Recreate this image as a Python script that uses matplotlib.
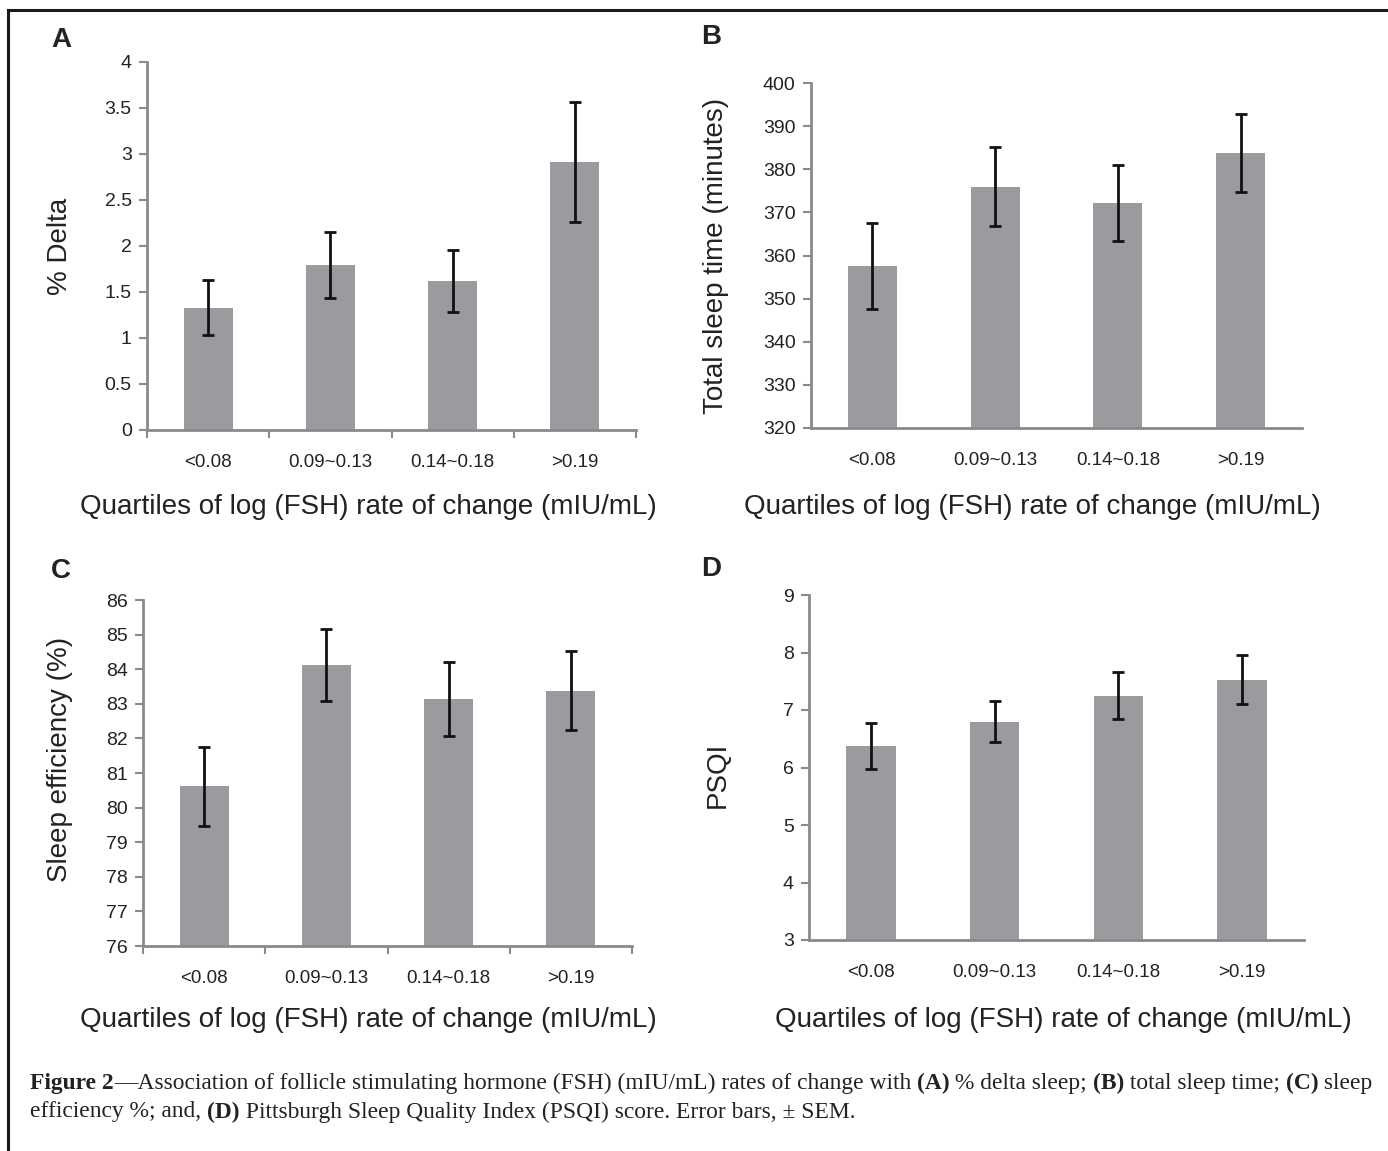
import matplotlib
matplotlib.use('Agg')
import matplotlib.pyplot as plt
from matplotlib.lines import Line2D
import numpy as np

plt.rcParams['font.family'] = ['Liberation Sans', 'DejaVu Sans']
plt.rcParams['text.color'] = '#222222'
plt.rcParams['axes.labelcolor'] = '#222222'
plt.rcParams['xtick.labelcolor'] = '#222222'
plt.rcParams['ytick.labelcolor'] = '#222222'

categories = ['<0.08', '0.09~0.13', '0.14~0.18', '>0.19']

delta_mean = [1.33, 1.79, 1.62, 2.91]
delta_sem = [0.30, 0.36, 0.34, 0.65]

tst_mean = [357.5, 376.0, 372.2, 383.8]
tst_sem = [10.0, 9.2, 8.8, 9.0]

eff_mean = [80.62, 84.12, 83.13, 83.38]
eff_sem = [1.14, 1.04, 1.07, 1.15]

psqi_mean = [6.38, 6.80, 7.25, 7.53]
psqi_sem = [0.40, 0.36, 0.41, 0.42]

xlab = 'Quartiles of log (FSH) rate of change (mIU/mL)'

W, H = 1388, 1151
fig = plt.figure(figsize=(W/100, H/100), dpi=100)

def px_axes(l, r, t, b):
    return fig.add_axes([l/W, 1-b/H, (r-l)/W, (b-t)/H])

bar_col = '#9a9b9f'
ax_col = '#8a8a8a'

panels = [
    # letter, box (l, r, t, b), means, sems, ylim, yticks, ylabel, ylab coords, boundary ticks, letter xy, xlabel xy
    ('A', (147, 636, 62, 430), delta_mean, delta_sem, (0, 4), np.arange(0, 4.01, 0.5), '% Delta', (-0.151, 0.5), True, (61, 40), (368, 507)),
    ('B', (811, 1302, 83, 428), tst_mean, tst_sem, (320, 400), np.arange(320, 401, 10), 'Total sleep time (minutes)', (-0.167, 0.5), False, (711, 37), (1032, 507)),
    ('C', (143, 632, 600, 946), eff_mean, eff_sem, (76, 86), np.arange(76, 87, 1), 'Sleep efficiency (%)', (-0.143, 0.54), True, (61, 571), (368, 1020)),
    ('D', (809, 1304, 595, 940), psqi_mean, psqi_sem, (3, 9), np.arange(3, 10, 1), 'PSQI', (-0.158, 0.48), False, (711, 569), (1063, 1020)),
]

for letter, box, means, sems, ylim, yt, ylab, ylc, bticks, lxy, xlxy in panels:
    ax = px_axes(*box)
    x = np.arange(len(categories))
    ax.bar(x, means, width=0.4, color=bar_col, zorder=2)
    ax.errorbar(x, means, yerr=sems, fmt='none', ecolor='#111111', elinewidth=2,
                capsize=4, capthick=2, zorder=3)
    ax.set_xlim(-0.5, 3.5)
    ax.set_ylim(*ylim)
    ax.set_yticks(yt)
    ax.set_yticklabels([('%g' % v) for v in yt])
    ax.set_xticks(x)
    ax.set_xticklabels(categories, fontsize=13.5)
    ax.tick_params(axis='x', length=0, pad=17)
    if bticks:
        ax.set_xticks(np.arange(-0.5, 4, 1), minor=True)
        ax.tick_params(axis='x', which='minor', length=6, width=1.5, color=ax_col)
    ax.tick_params(axis='y', length=6, width=1.5, color=ax_col, labelsize=14, pad=5)
    for s in ['top', 'right']:
        ax.spines[s].set_visible(False)
    for s in ['left', 'bottom']:
        ax.spines[s].set_color(ax_col)
        ax.spines[s].set_linewidth(2)
    ax.set_ylabel(ylab, fontsize=20)
    ax.yaxis.set_label_coords(*ylc)
    fig.text(lxy[0]/W, 1-lxy[1]/H, letter, fontsize=20, fontweight='bold', ha='center', va='center')
    fig.text(xlxy[0]/W, 1-xlxy[1]/H, xlab, fontsize=20, ha='center', va='center')

# frame
fig.add_artist(Line2D([8/W, 1], [1-10/H, 1-10/H], color='#1a1a1a', lw=2.2, transform=fig.transFigure))
fig.add_artist(Line2D([8/W, 8/W], [1-10/H, 0], color='#1a1a1a', lw=2.2, transform=fig.transFigure))

# caption with bold pieces
caption = [
    [('Figure 2', True), ('\u2014Association of follicle stimulating hormone (FSH) (mIU/mL) rates of change with ', False),
     ('(A)', True), (' % delta sleep; ', False), ('(B)', True), (' total sleep time; ', False), ('(C)', True), (' sleep', False)],
    [('efficiency %; and, ', False), ('(D)', True), (' Pittsburgh Sleep Quality Index (PSQI) score. Error bars, \u00b1 SEM.', False)],
]
cap_y = [1083, 1112]
renderer = fig.canvas.get_renderer()
for line, yy in zip(caption, cap_y):
    xx = 30
    for txt, bold in line:
        t = fig.text(xx/W, 1-yy/H, txt, fontsize=16.9, family='Liberation Serif',
                     fontweight='bold' if bold else 'normal', ha='left', va='center')
        bb = t.get_window_extent(renderer=renderer)
        xx += bb.width

fig.savefig('out.png', dpi=100)
